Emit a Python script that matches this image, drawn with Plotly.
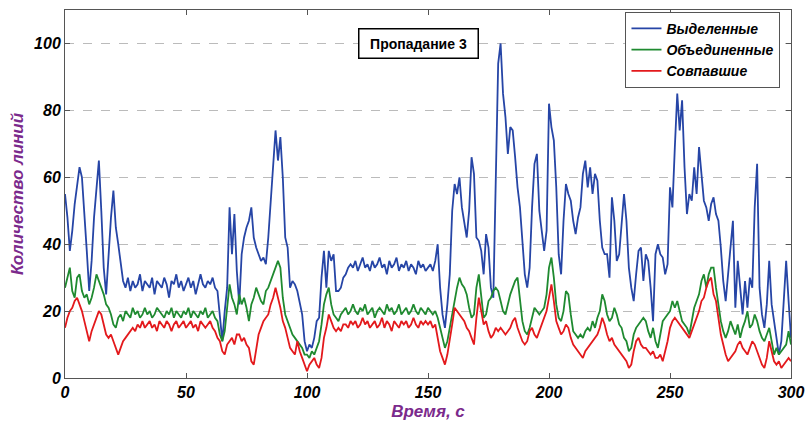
import plotly.graph_objects as go

time_s = list(range(0, 301))

selected = [
    55, 48, 38, 44, 52, 58, 63, 60, 47, 38,
    26, 35, 48, 58, 65, 50, 33, 25, 38, 48,
    56, 45, 40, 34, 29, 27, 30, 26, 29, 27,
    28, 31, 26, 29, 28, 27, 30, 25, 29, 28,
    27, 30, 28, 24, 29, 28, 31, 27, 29, 26,
    28, 30, 27, 29, 25, 28, 31, 28, 27, 29,
    28, 30, 27, 26, 18, 11, 20, 27, 51, 37,
    49, 32, 22, 37, 42, 45, 47, 51, 42, 39,
    37, 35, 36, 34, 42, 53, 62, 74, 65, 72,
    60, 42, 39, 27, 29, 28, 26, 22, 19, 11,
    8, 10, 9, 12, 17, 18, 30, 38, 27, 38,
    35, 37, 26, 26, 27, 30, 31, 33, 34, 33,
    35, 32, 34, 36, 33, 34, 32, 35, 33, 34,
    36, 33, 34, 31, 35, 33, 34, 36, 32, 34,
    33, 35, 32, 34, 33, 31, 35, 33, 34, 32,
    33, 34, 32, 35, 40, 27, 19, 15, 22, 31,
    50, 58, 55, 60, 51, 47, 42, 50, 66, 61,
    42, 41, 38, 31, 43, 39, 27, 24, 62, 94,
    100, 85, 78, 67, 75, 74, 66, 57, 51, 40,
    31, 27, 33, 51, 64, 67, 50, 44, 38, 44,
    82, 75, 71, 57, 37, 31, 47, 58, 55, 53,
    47, 43, 48, 51, 61, 65, 57, 63, 55, 61,
    59, 47, 39, 37, 37, 30, 54, 47, 35, 37,
    45, 55, 47, 33, 27, 23, 31, 38, 39, 29,
    37, 35, 27, 17, 37, 40, 37, 36, 31, 34,
    57, 51, 69, 85, 74, 83, 63, 49, 55, 53,
    63, 55, 69, 62, 53, 51, 47, 52, 54, 49,
    47, 39, 29, 23, 31, 39, 47, 21, 35, 27,
    19, 29, 21, 30, 27, 51, 64, 27, 19, 15,
    22, 35, 22, 17, 12, 7, 11, 25, 35, 23,
    12,
]

merged = [
    27, 30, 33, 26, 24, 30, 31, 26, 24, 25,
    22, 24, 27, 31, 29, 27, 25, 22, 21, 19,
    16, 15, 18, 19, 17, 20, 19, 18, 21, 19,
    20, 18, 19, 21, 19, 20, 18, 19, 21, 20,
    19, 18, 20, 19, 21, 18, 20, 19, 18, 20,
    19, 21, 18, 20, 19, 18, 20, 19, 21, 18,
    19, 20, 18, 17, 13, 11, 14, 21, 28, 24,
    22, 19, 25, 22, 24, 21, 17, 22, 24, 27,
    25, 23, 22, 26, 27, 29, 31, 33, 35, 33,
    24, 19, 17, 15, 13, 12, 11, 10, 9, 7,
    7, 6, 8, 7, 9, 11, 16, 22, 25, 27,
    22, 19, 18, 17, 19, 20, 21, 19, 20, 22,
    20, 19, 21, 20, 22, 19, 20, 21, 18, 20,
    21, 20, 19, 22, 20, 21, 19, 20, 22, 19,
    20, 21, 19, 20, 22, 20, 19, 21, 20, 19,
    21, 20, 19, 20, 18, 15, 12, 9, 11, 15,
    19, 24, 27, 30, 28, 27, 25, 21, 18, 19,
    27, 31, 25, 18, 19, 23, 24, 26, 27, 26,
    23, 20, 19, 22, 25, 27, 29, 30, 24, 17,
    14, 13, 15, 18, 21, 20, 19, 20, 21, 25,
    33, 36, 30, 22, 18, 17, 20, 26, 25, 19,
    14, 13, 12, 13, 12, 14, 15, 14, 17, 15,
    18, 20, 25, 23, 19, 17, 18, 21, 19, 16,
    15, 12, 11, 8, 9, 13, 15, 16, 17, 18,
    17, 14, 12, 15, 11, 9, 13, 17, 18, 19,
    20, 23, 21, 23, 20, 17, 16, 15, 13, 17,
    21, 23, 25, 29, 31, 27, 31, 33, 33, 27,
    22, 17, 14, 12, 14, 17, 15, 13, 16, 12,
    15, 17, 20, 15, 16, 19, 17, 14, 12, 11,
    13, 15, 11, 7, 9, 7, 8, 9, 10, 14,
    10,
]

matched = [
    15, 18, 20, 21, 23, 24, 22, 20, 17, 14,
    11, 14, 16, 18, 20, 19, 16, 13, 12, 13,
    11, 9, 7, 9, 11, 12, 13, 14, 15, 14,
    16, 15, 17, 15, 16, 17, 15, 16, 14, 17,
    16, 15, 17, 16, 14, 16, 17, 15, 16, 17,
    15, 16, 17, 15, 16, 14, 17, 16, 15, 16,
    17, 15, 14, 12, 11, 8, 7, 10, 11, 12,
    10, 13, 13, 11, 12, 10, 9, 5, 4, 9,
    13, 15, 17, 18, 19, 22, 24, 27, 24, 21,
    17, 15, 12, 9, 8, 7, 11, 8, 6, 4,
    2, 4, 5, 6, 4, 3, 6, 12, 15, 19,
    17, 15, 14, 15, 14, 16, 16, 15, 17, 16,
    17, 15, 16, 18, 16, 17, 15, 16, 17, 15,
    16, 18, 15, 17, 16, 14, 17, 16, 15, 17,
    16, 17, 15, 16, 18, 16, 15, 17, 16, 17,
    16, 17, 15, 16, 12, 8, 6, 4, 7, 11,
    16, 21, 20, 19, 18, 17, 15, 14, 12, 10,
    18, 24, 20, 16, 17, 14, 12, 13, 15, 14,
    15, 14, 13, 14, 15, 17, 18, 15, 13, 11,
    10, 11, 14, 15, 13, 12, 14, 16, 18, 20,
    24, 28, 23, 17, 15, 13, 14, 16, 15, 12,
    10, 9, 8, 7, 6, 8, 9, 10, 11, 12,
    13, 15, 18, 16, 13, 11, 12, 10, 9, 8,
    7, 6, 5, 3, 4, 8, 11, 12, 10, 9,
    9, 8, 7, 8, 6, 6, 7, 5, 8, 11,
    15, 17, 18, 17, 16, 15, 14, 13, 12, 14,
    16, 18, 20, 23, 24, 27, 29, 30, 25, 23,
    18, 13, 10, 7, 5, 6, 7, 8, 10, 11,
    9, 8, 7, 9, 11, 10, 8, 6, 4, 3,
    6, 11, 8, 5, 4, 5, 3, 4, 5, 6,
    5,
]

series_names = ["Выделенные", "Объединенные", "Совпавшие"]
series_colors = ["#2645a6", "#1f8a30", "#e3191c"]
x_ticks = [0, 50, 100, 150, 200, 250, 300]
y_ticks = [0, 20, 40, 60, 80, 100]

fig = go.Figure()
for name, vals, col in zip(series_names, [selected, merged, matched], series_colors):
    fig.add_trace(go.Scatter(x=time_s, y=vals, mode="lines", name=name,
                             line=dict(color=col, width=1.8)))

tick_font = dict(family="Liberation Sans, Arial", size=16, color="black",
                 weight="bold", style="italic")
title_font = dict(family="Liberation Sans, Arial", size=17, color="#7b2a8c",
                  weight="bold", style="italic")

fig.update_layout(
    width=807, height=429,
    margin=dict(l=65, r=16, t=10, b=51),
    paper_bgcolor="white", plot_bgcolor="white",
    showlegend=True,
    legend=dict(x=0.772, y=0.995, xanchor="left", yanchor="top",
                bgcolor="white", bordercolor="#555", borderwidth=1,
                font=dict(family="Liberation Sans, Arial", size=14, color="black",
                          weight="bold", style="italic"),
                tracegroupgap=0, itemwidth=30),
    annotations=[dict(x=146, y=100, xref="x", yref="y", text="Пропадание 3",
                      showarrow=False, bgcolor="white", bordercolor="black",
                      borderwidth=1.5, borderpad=3, width=112, height=22,
                      font=dict(family="Liberation Sans, Arial", size=14,
                                color="black", weight="bold"))],
)
fig.update_xaxes(range=[0, 300], tickvals=x_ticks, showgrid=False, zeroline=False,
                 showline=True, linecolor="#555", linewidth=1, mirror="ticks",
                 ticks="inside", ticklen=5, tickcolor="#555", tickfont=tick_font,
                 automargin=False,
                 title=dict(text="Время, с", font=title_font, standoff=4))
fig.update_yaxes(range=[0, 110], tickvals=y_ticks, showgrid=True, gridcolor="#bbbbbb",
                 griddash="dash", gridwidth=1, zeroline=False,
                 showline=True, linecolor="#555", linewidth=1, mirror="ticks",
                 ticks="inside", ticklen=5, tickcolor="#555", tickfont=tick_font,
                 automargin=False,
                 title=dict(text="Количество линий", font=title_font, standoff=6))

fig.write_html("out.html", config={"displayModeBar": False},
               post_script="document.body.style.margin='0';"
                           "document.body.style.overflow='hidden';")
